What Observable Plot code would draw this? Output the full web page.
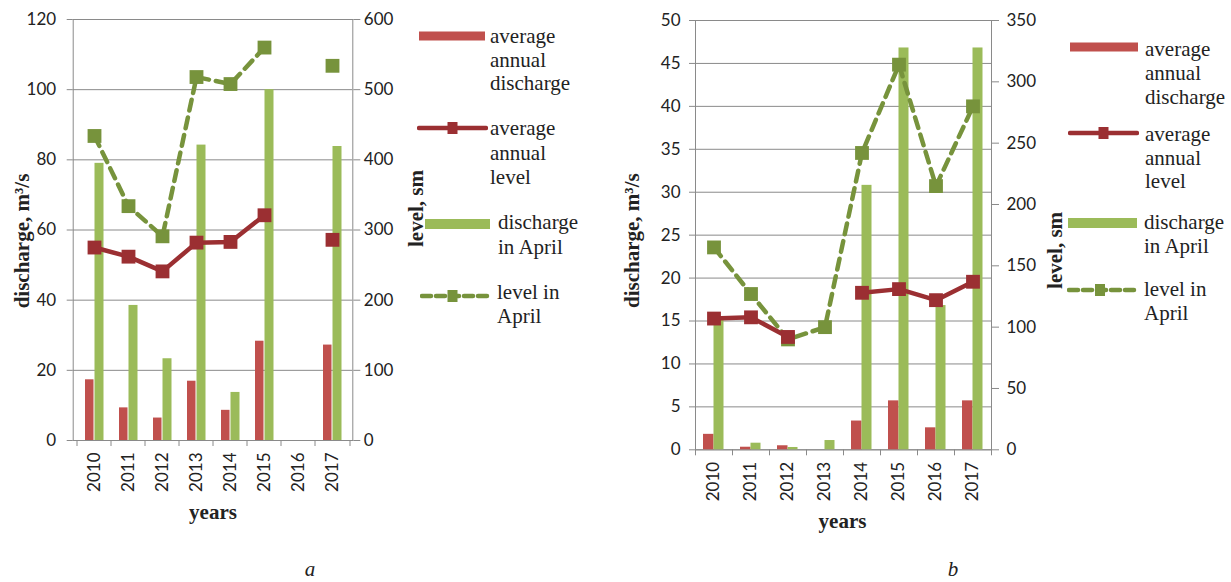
<!DOCTYPE html>
<html>
<head>
<meta charset="utf-8">
<script src="https://cdn.jsdelivr.net/npm/d3@7"></script>
<script src="https://cdn.jsdelivr.net/npm/@observablehq/plot@0.6"></script>
<style>
  html, body { margin: 0; padding: 0; background: #fff; }
  #wrap { position: relative; width: 1231px; height: 582px; overflow: hidden; background: #fff; }
  .panel { position: absolute; top: 0; }
  .panel svg { overflow: visible; }
  .lg { position: absolute; font-family: "Liberation Serif", serif; font-size: 21px; color: #222; white-space: pre; }
  .sw { position: absolute; }
  .cap { position: absolute; font-family: "Liberation Serif", serif; font-style: italic; font-size: 21px; line-height: 22px; color: #222; transform: translate(-50%, -50%); }
</style>
</head>
<body>
<div id="wrap">
  <div id="pa" class="panel" style="left:0px"></div>
  <div id="pb" class="panel" style="left:620px"></div>
</div>
<script>
// ---------- data ----------
const years = ["2010", "2011", "2012", "2013", "2014", "2015", "2016", "2017"];

// panel a
const aAnnualDischarge = [17.3, 9.3, 6.4, 16.9, 8.6, 28.3, null, 27.2];
const aAprilDischarge  = [79, 38.5, 23.3, 84.2, 13.7, 100, null, 83.8];
const aAnnualLevel     = [275, 262, 241, 282, 283, 321, null, 286];
const aAprilLevel      = [434, 334, 291, 518, 508, 560, null, 534];
const aLeftTicks  = [0, 20, 40, 60, 80, 100, 120];
const aRightTicks = [0, 100, 200, 300, 400, 500, 600];

// panel b
const bAnnualDischarge = [1.8, 0.3, 0.47, null, 3.35, 5.7, 2.56, 5.7];
const bAprilDischarge  = [15.1, 0.77, 0.27, 1.08, 30.8, 46.8, 16.8, 46.8];
const bAnnualLevel     = [107, 108, 92, null, 128, 131, 122, 137];
const bAprilLevel      = [165, 127, 90, 100, 242, 314, 215, 280];
const bLeftTicks  = [0, 5, 10, 15, 20, 25, 30, 35, 40, 45, 50];
const bRightTicks = [0, 50, 100, 150, 200, 250, 300, 350];

const legendLabels = [
  "average\nannual\ndischarge",
  "average\nannual\nlevel",
  "discharge\nin April",
  "level in\nApril"
];
const yLabel = "discharge, m³/s";
const y2Label = "level, sm";
const xLabel = "years";

// ---------- styles ----------
const RED = "#C0504D", DRED = "#9B2F32", GREEN = "#9BBB59", DGREEN = "#77933C", GRID = "#8a8a8a", INK = "#222";

function panel(opts) {
  const {ad, pd, al, pl, leftTicks, rightTicks, yMax, k, width, mL, mR, mT, mB,
         bw, redIn, greenIn, padL, padR, lab} = opts;
  const rows = years.map((year, i) => ({year, ad: ad[i], pd: pd[i], al: al[i], pl: pl[i]}));
  const serif = {fontFamily: "Liberation Serif", fontWeight: "bold", fontSize: 21, fill: INK, textAnchor: "middle"};
  return Plot.plot({
    width, height: 582,
    marginLeft: mL, marginRight: mR, marginTop: mT, marginBottom: mB,
    style: {fontFamily: "Lato, sans-serif", fontSize: "17px", color: INK, background: "transparent"},
    x: {type: "band", domain: years, paddingInner: 0, paddingOuter: 0, axis: null, label: null},
    y: {domain: [0, yMax], axis: null, label: null},
    marks: [
      Plot.gridY(leftTicks, {stroke: GRID, strokeOpacity: 1}),
      Plot.frame({stroke: GRID}),
      Plot.axisY(leftTicks, {anchor: "left", tickSize: 6, tickPadding: padL, stroke: GRID, fill: INK, label: null}),
      Plot.axisY(rightTicks.map(v => v / k), {anchor: "right", tickSize: 7, tickPadding: padR, stroke: GRID, fill: INK,
        tickFormat: d => String(Math.round(d * k)), label: null}),
      Plot.axisX({tickSize: 0, tickPadding: 12, tickRotate: -90, fill: INK, label: null}),
      Plot.axisX({tickSize: 6, tickFormat: () => "", dx: -bw / 2, stroke: GRID, label: null}),
      Plot.axisX(["2017"], {tickSize: 6, tickFormat: () => "", dx: bw / 2, stroke: GRID, label: null}),
      Plot.barY(rows.filter(d => d.ad != null), {x: "year", y: "ad", fill: RED, insetLeft: redIn[0], insetRight: redIn[1]}),
      Plot.barY(rows.filter(d => d.pd != null), {x: "year", y: "pd", fill: GREEN, insetLeft: greenIn[0], insetRight: greenIn[1]}),
      Plot.line(rows, {x: "year", y: d => d.pl == null ? NaN : d.pl / k, stroke: DGREEN, strokeWidth: 4.5, strokeDasharray: "11,7"}),
      Plot.dot(rows.filter(d => d.pl != null), {x: "year", y: d => d.pl / k, symbol: "square", r: 7.8, fill: DGREEN}),
      Plot.line(rows, {x: "year", y: d => d.al == null ? NaN : d.al / k, stroke: DRED, strokeWidth: 4.5}),
      Plot.dot(rows.filter(d => d.al != null), {x: "year", y: d => d.al / k, symbol: "square", r: 7.8, fill: DRED}),
      Plot.text([yLabel], {frameAnchor: "middle", text: d => d, rotate: -90, dx: lab.y[0], dy: lab.y[1], ...serif}),
      Plot.text([y2Label], {frameAnchor: "middle", text: d => d, rotate: -90, dx: lab.y2[0], dy: lab.y2[1], ...serif}),
      Plot.text([xLabel], {frameAnchor: "bottom", text: d => d, dx: lab.x[0], dy: lab.x[1], ...serif})
    ]
  });
}

document.getElementById("pa").append(panel({
  ad: aAnnualDischarge, pd: aAprilDischarge, al: aAnnualLevel, pl: aAprilLevel,
  leftTicks: aLeftTicks, rightTicks: aRightTicks, yMax: 120, k: 5,
  width: 440, mL: 72.7, mR: 87.7, mT: 19, mB: 142, bw: 35,
  redIn: [8, 17.5], greenIn: [17.5, 7.5], padL: 11, padR: 4,
  lab: {y: [-190.5, 11], y2: [203.5, -21.5], x: [0, 78]}
}));

document.getElementById("pb").append(panel({
  ad: bAnnualDischarge, pd: bAprilDischarge, al: bAnnualLevel, pl: bAprilLevel,
  leftTicks: bLeftTicks, rightTicks: bRightTicks, yMax: 50, k: 7,
  width: 450, mL: 75, mR: 79, mT: 20, mB: 132.7, bw: 37,
  redIn: [8, 18.5], greenIn: [18.5, 8.5], padL: 9, padR: 8,
  lab: {y: [-211, 5.5], y2: [212, 15.3], x: [-1, 78]}
}));

// ---------- legends ----------
const wrap = document.getElementById("wrap");
function swatch(kind, x, y, w) {
  const ns = "http://www.w3.org/2000/svg";
  const s = document.createElementNS(ns, "svg");
  s.setAttribute("class", "sw");
  s.setAttribute("width", w); s.setAttribute("height", 20);
  s.style.left = x + "px"; s.style.top = (y - 10) + "px";
  let html = "";
  if (kind === 0) html = `<rect x="0" y="5.5" width="${w}" height="9" fill="${RED}"/>`;
  if (kind === 2) html = `<rect x="0" y="5" width="${w}" height="10" fill="${GREEN}"/>`;
  if (kind === 1) html = `<line x1="2" x2="${w - 2}" y1="10" y2="10" stroke="${DRED}" stroke-width="4.5" stroke-linecap="round"/>` +
    `<rect x="${w/2 - 5}" y="4" width="10" height="12" fill="${DRED}"/>`;
  if (kind === 3) html = `<line x1="2" x2="${w}" y1="10" y2="10" stroke="${DGREEN}" stroke-width="4.5" stroke-dasharray="9,5" stroke-linecap="round"/>` +
    `<rect x="${w/2 - 8}" y="4" width="10" height="12" fill="${DGREEN}"/>`;
  s.innerHTML = html;
  wrap.append(s);
}
function label(text, x, top, lh) {
  const d = document.createElement("div");
  d.className = "lg";
  d.style.left = x + "px"; d.style.top = top + "px"; d.style.lineHeight = lh + "px";
  d.textContent = text;
  wrap.append(d);
}
const legA = [
  {sx: 419, sy: 36, sw: 66, tx: 490, top: 25, lh: 23.5},
  {sx: 417, sy: 128, sw: 71, tx: 490, top: 116, lh: 24.5},
  {sx: 425, sy: 224, sw: 65, tx: 498, top: 210, lh: 24.5},
  {sx: 420, sy: 296, sw: 71, tx: 497, top: 280, lh: 24}
];
const legB = [
  {sx: 1070, sy: 47, sw: 68, tx: 1145, top: 37, lh: 24},
  {sx: 1068, sy: 133, sw: 71, tx: 1145, top: 123, lh: 23.5},
  {sx: 1068, sy: 223, sw: 69, tx: 1144, top: 210, lh: 24},
  {sx: 1067, sy: 290, sw: 72, tx: 1144, top: 278, lh: 23.5}
];
[legA, legB].forEach(leg => leg.forEach((p, i) => {
  swatch(i, p.sx, p.sy, p.sw);
  label(legendLabels[i], p.tx, p.top, p.lh);
}));

// captions
[["a", 310, 569], ["b", 953, 569]].forEach(([t, x, y]) => {
  const d = document.createElement("div");
  d.className = "cap"; d.style.left = x + "px"; d.style.top = y + "px"; d.textContent = t;
  wrap.append(d);
});
</script>
</body>
</html>
